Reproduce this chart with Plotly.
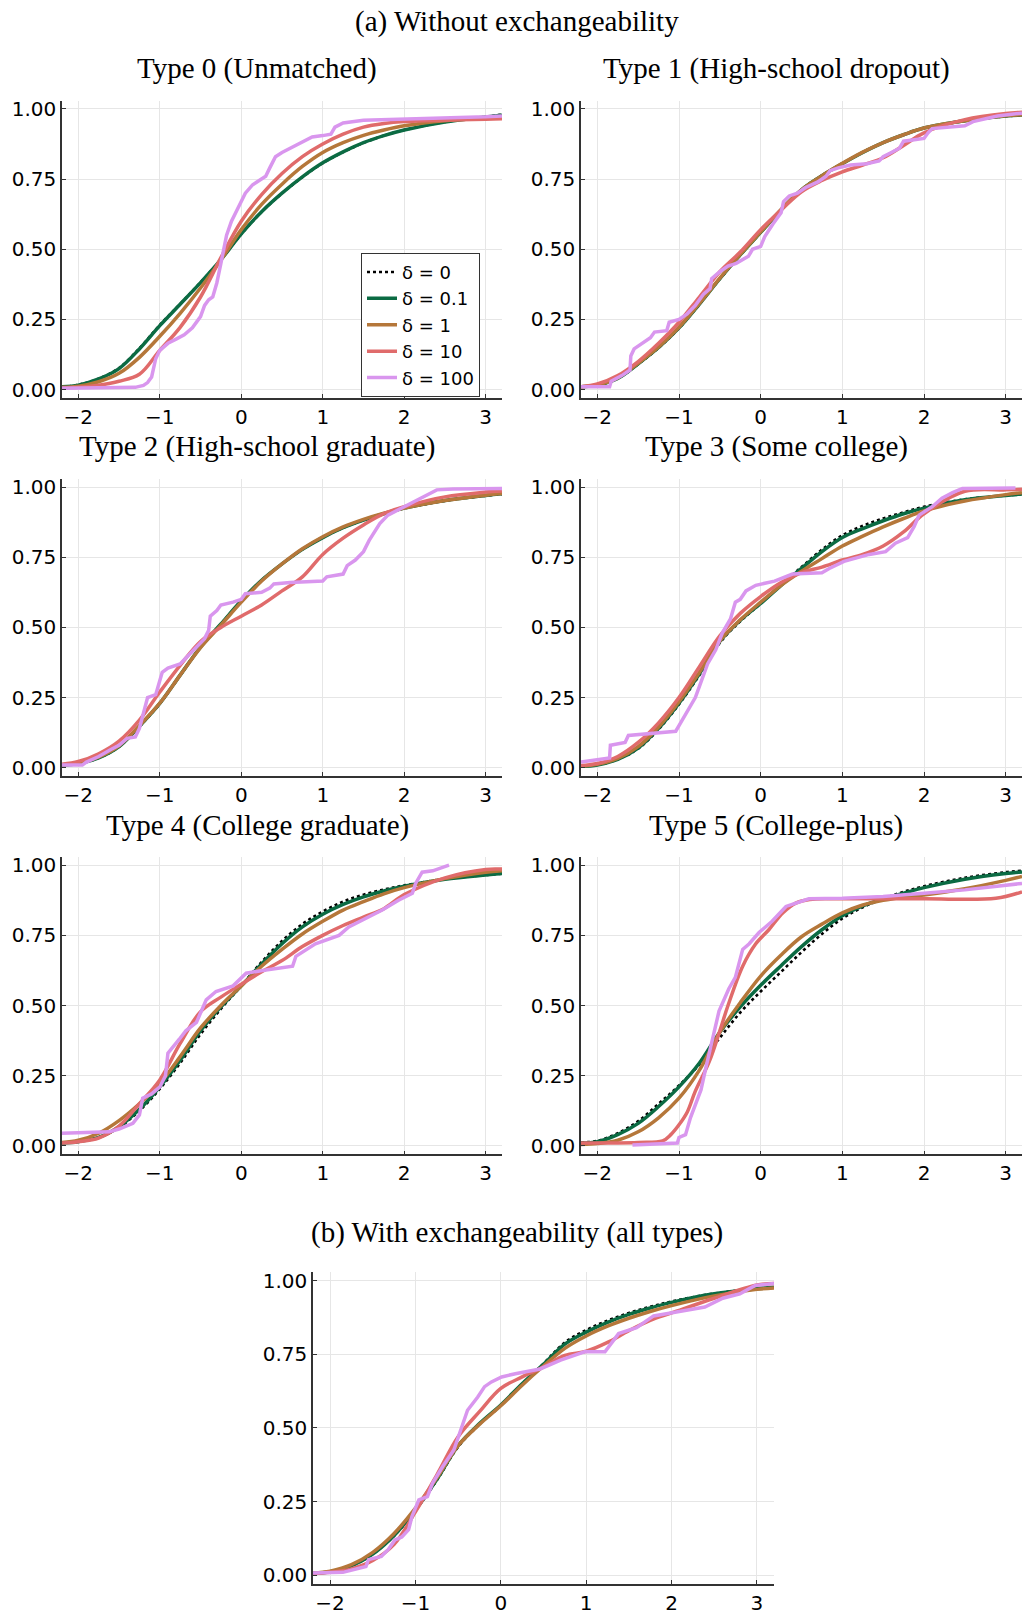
import plotly.graph_objects as go

W, H = 1025, 1616

x_grid = [-2.2, -2.0, -1.75, -1.5, -1.25, -1.0, -0.75, -0.5, -0.25, 0.0,
          0.25, 0.5, 0.75, 1.0, 1.25, 1.5, 1.75, 2.0, 2.5, 3.0, 3.2]

deltas = ['0', '0.1', '1', '10', '100']

# Type 0 (Unmatched)
t0_d0 = [0.010, 0.017, 0.039, 0.077, 0.147, 0.230, 0.305, 0.382, 0.463, 0.554, 0.633,
         0.699, 0.757, 0.807, 0.846, 0.879, 0.905, 0.925, 0.954, 0.972, 0.980]
t0_d01 = [0.010, 0.016, 0.038, 0.075, 0.145, 0.228, 0.304, 0.381, 0.463, 0.555, 0.634,
          0.700, 0.758, 0.808, 0.847, 0.880, 0.905, 0.925, 0.953, 0.971, 0.978]
t0_d1 = [0.008, 0.012, 0.028, 0.058, 0.115, 0.190, 0.272, 0.362, 0.462, 0.570, 0.660,
         0.732, 0.795, 0.845, 0.880, 0.906, 0.925, 0.940, 0.958, 0.967, 0.970]
t0_d10 = [0.006, 0.008, 0.016, 0.030, 0.055, 0.140, 0.222, 0.330, 0.470, 0.600, 0.695,
          0.770, 0.830, 0.875, 0.910, 0.935, 0.948, 0.955, 0.960, 0.963, 0.965]
t0_d100_x = [-2.2, -1.5, -1.3, -1.2, -1.15, -1.1, -1.07, -1.05, -1.0, -0.9, -0.8, -0.7,
             -0.6, -0.5, -0.45, -0.4, -0.35, -0.3, -0.25, -0.22, -0.18, -0.12, -0.05,
             0.0, 0.05, 0.14, 0.22, 0.3, 0.35, 0.42, 0.5, 0.63, 0.75, 0.87, 1.0, 1.1,
             1.15, 1.25, 1.5, 2.0, 2.5, 3.0, 3.2]
t0_d100_y = [0.005, 0.005, 0.008, 0.015, 0.025, 0.045, 0.080, 0.110, 0.140, 0.165,
             0.180, 0.195, 0.220, 0.260, 0.300, 0.320, 0.330, 0.380, 0.450, 0.490,
             0.550, 0.600, 0.640, 0.675, 0.700, 0.730, 0.745, 0.760, 0.790, 0.830,
             0.845, 0.865, 0.885, 0.900, 0.905, 0.910, 0.935, 0.950, 0.960, 0.963,
             0.967, 0.972, 0.975]

# Type 1 (High-school dropout)
t1_d0 = [0.010, 0.016, 0.040, 0.091, 0.149, 0.219, 0.304, 0.394, 0.479, 0.560, 0.640,
         0.712, 0.763, 0.806, 0.846, 0.880, 0.908, 0.932, 0.957, 0.974, 0.977]
t1_d01 = [0.010, 0.016, 0.040, 0.092, 0.150, 0.220, 0.305, 0.395, 0.480, 0.560, 0.640,
          0.712, 0.762, 0.805, 0.845, 0.880, 0.908, 0.932, 0.958, 0.975, 0.978]
t1_d1 = [0.010, 0.017, 0.042, 0.094, 0.152, 0.222, 0.307, 0.397, 0.482, 0.562, 0.642,
         0.712, 0.762, 0.806, 0.846, 0.880, 0.908, 0.932, 0.958, 0.976, 0.979]
t1_d10 = [0.010, 0.020, 0.050, 0.100, 0.165, 0.240, 0.330, 0.420, 0.490, 0.570, 0.640,
          0.705, 0.745, 0.776, 0.800, 0.826, 0.870, 0.915, 0.962, 0.984, 0.988]
t1_d100_x = [-2.2, -1.85, -1.83, -1.7, -1.6, -1.59, -1.55, -1.45, -1.35, -1.3, -1.15,
             -1.12, -1.0, -0.9, -0.8, -0.7, -0.62, -0.6, -0.5, -0.4, -0.3, -0.15, -0.1,
             0.0, 0.05, 0.15, 0.25, 0.28, 0.35, 0.45, 0.55, 0.7, 0.8, 0.85, 0.95, 1.1,
             1.3, 1.45, 1.5, 1.6, 1.7, 1.75, 1.9, 2.0, 2.05, 2.1, 2.5, 2.6, 2.9, 3.2]
t1_d100_y = [0.010, 0.010, 0.030, 0.050, 0.070, 0.120, 0.145, 0.165, 0.185, 0.205,
             0.210, 0.240, 0.250, 0.270, 0.300, 0.340, 0.360, 0.395, 0.420, 0.440,
             0.450, 0.475, 0.500, 0.510, 0.545, 0.590, 0.630, 0.670, 0.690, 0.700,
             0.720, 0.740, 0.760, 0.780, 0.790, 0.800, 0.805, 0.815, 0.830, 0.845,
             0.860, 0.885, 0.890, 0.895, 0.915, 0.930, 0.940, 0.955, 0.975, 0.985]

# Type 2 (High-school graduate)
t2_d0 = [0.010, 0.015, 0.035, 0.075, 0.147, 0.228, 0.329, 0.429, 0.512, 0.594, 0.667,
         0.726, 0.778, 0.820, 0.855, 0.882, 0.905, 0.924, 0.951, 0.969, 0.975]
t2_d01 = [0.010, 0.015, 0.035, 0.075, 0.148, 0.229, 0.330, 0.430, 0.512, 0.595, 0.668,
          0.726, 0.778, 0.820, 0.855, 0.882, 0.905, 0.925, 0.952, 0.970, 0.976]
t2_d1 = [0.011, 0.017, 0.038, 0.078, 0.150, 0.230, 0.330, 0.428, 0.508, 0.590, 0.665,
         0.726, 0.780, 0.823, 0.858, 0.885, 0.907, 0.925, 0.952, 0.971, 0.977]
t2_d10 = [0.012, 0.022, 0.050, 0.095, 0.170, 0.270, 0.365, 0.450, 0.500, 0.540, 0.580,
          0.630, 0.680, 0.760, 0.818, 0.865, 0.905, 0.930, 0.965, 0.982, 0.986]
t2_d100_x = [-2.2, -1.95, -1.9, -1.75, -1.6, -1.5, -1.4, -1.3, -1.25, -1.2, -1.15, -1.05,
             -0.97, -0.9, -0.75, -0.65, -0.55, -0.45, -0.4, -0.38, -0.3, -0.25, -0.1,
             0.0, 0.05, 0.25, 0.35, 0.4, 0.6, 1.0, 1.05, 1.25, 1.3, 1.4, 1.5, 1.57, 1.7,
             1.8, 2.0, 2.2, 2.4, 2.6, 3.2]
t2_d100_y = [0.010, 0.010, 0.020, 0.040, 0.065, 0.080, 0.105, 0.110, 0.140, 0.190,
             0.250, 0.260, 0.340, 0.355, 0.370, 0.400, 0.430, 0.460, 0.490, 0.540,
             0.560, 0.580, 0.590, 0.600, 0.620, 0.625, 0.640, 0.655, 0.660, 0.665,
             0.680, 0.690, 0.720, 0.740, 0.770, 0.810, 0.870, 0.900, 0.930, 0.960,
             0.990, 0.993, 0.995]

# Type 3 (Some college)
t3_d0 = [0.005, 0.010, 0.030, 0.068, 0.137, 0.226, 0.330, 0.445, 0.522, 0.585, 0.652,
         0.715, 0.777, 0.828, 0.862, 0.888, 0.910, 0.930, 0.956, 0.970, 0.975]
t3_d01 = [0.005, 0.010, 0.030, 0.070, 0.140, 0.230, 0.335, 0.450, 0.525, 0.585, 0.650,
          0.710, 0.770, 0.820, 0.852, 0.880, 0.905, 0.925, 0.955, 0.970, 0.975]
t3_d1 = [0.006, 0.012, 0.033, 0.075, 0.145, 0.235, 0.340, 0.452, 0.527, 0.590, 0.650,
         0.700, 0.745, 0.790, 0.825, 0.858, 0.888, 0.915, 0.950, 0.973, 0.980]
t3_d10 = [0.008, 0.015, 0.040, 0.090, 0.160, 0.250, 0.360, 0.470, 0.550, 0.610, 0.660,
          0.695, 0.715, 0.740, 0.760, 0.790, 0.840, 0.905, 0.985, 0.990, 0.992]
t3_d100_x = [-2.2, -1.85, -1.84, -1.66, -1.62, -1.5, -1.3, -1.04, -1.0, -0.95, -0.9,
             -0.8, -0.75, -0.7, -0.65, -0.55, -0.47, -0.37, -0.31, -0.25, -0.18, -0.06,
             0.17, 0.39, 0.75, 0.84, 1.02, 1.33, 1.53, 1.65, 1.8, 1.88, 1.94, 2.1, 2.22,
             2.35, 2.47, 3.12]
t3_d100_y = [0.020, 0.035, 0.080, 0.090, 0.115, 0.118, 0.122, 0.130, 0.150, 0.175,
             0.200, 0.250, 0.290, 0.335, 0.370, 0.420, 0.480, 0.530, 0.590, 0.600,
             0.630, 0.650, 0.665, 0.690, 0.695, 0.710, 0.735, 0.760, 0.770, 0.800,
             0.820, 0.860, 0.900, 0.930, 0.960, 0.980, 0.995, 0.997]

# Type 4 (College graduate)
t4_d0 = [0.010, 0.015, 0.030, 0.066, 0.125, 0.203, 0.295, 0.398, 0.488, 0.570, 0.655,
         0.730, 0.790, 0.835, 0.870, 0.895, 0.913, 0.928, 0.951, 0.965, 0.970]
t4_d01 = [0.010, 0.015, 0.030, 0.068, 0.130, 0.210, 0.305, 0.410, 0.495, 0.570, 0.648,
          0.720, 0.780, 0.825, 0.860, 0.887, 0.908, 0.925, 0.950, 0.965, 0.970]
t4_d1 = [0.012, 0.020, 0.045, 0.090, 0.150, 0.222, 0.318, 0.420, 0.500, 0.570, 0.640,
         0.700, 0.755, 0.800, 0.840, 0.870, 0.898, 0.920, 0.952, 0.975, 0.980]
t4_d10 = [0.010, 0.015, 0.028, 0.070, 0.150, 0.235, 0.365, 0.478, 0.530, 0.576, 0.620,
          0.660, 0.710, 0.750, 0.785, 0.815, 0.845, 0.895, 0.955, 0.985, 0.986]
t4_d100_x = [-2.2, -1.62, -1.5, -1.33, -1.25, -1.21, -1.1, -1.0, -0.93, -0.9, -0.76,
             -0.68, -0.55, -0.43, -0.31, -0.1, 0.06, 0.26, 0.63, 0.67, 0.91, 1.2, 1.32,
             1.53, 1.73, 1.93, 2.1, 2.14, 2.22, 2.35, 2.55]
t4_d100_y = [0.045, 0.050, 0.060, 0.080, 0.110, 0.170, 0.185, 0.210, 0.250, 0.330,
             0.380, 0.410, 0.440, 0.520, 0.550, 0.570, 0.615, 0.625, 0.640, 0.675,
             0.720, 0.750, 0.780, 0.810, 0.840, 0.875, 0.900, 0.935, 0.975, 0.980,
             1.000]

# Type 5 (College-plus)
t5_d0 = [0.012, 0.018, 0.045, 0.088, 0.150, 0.215, 0.290, 0.385, 0.475, 0.550, 0.620,
         0.690, 0.755, 0.810, 0.850, 0.880, 0.905, 0.925, 0.955, 0.975, 0.980]
t5_d01 = [0.010, 0.015, 0.040, 0.080, 0.140, 0.210, 0.295, 0.405, 0.495, 0.572, 0.642,
          0.710, 0.770, 0.820, 0.855, 0.880, 0.900, 0.920, 0.950, 0.970, 0.976]
t5_d1 = [0.005, 0.008, 0.020, 0.050, 0.100, 0.170, 0.270, 0.405, 0.510, 0.605, 0.680,
         0.745, 0.790, 0.830, 0.858, 0.875, 0.886, 0.894, 0.916, 0.946, 0.960]
t5_d10_x = [-2.2, -1.5, -1.2, -1.1, -1.0, -0.9, -0.8, -0.63, -0.5, -0.4, -0.22, -0.06,
            0.1, 0.27, 0.43, 0.6, 1.0, 2.0, 2.88, 3.2]
t5_d10_y = [0.010, 0.012, 0.018, 0.040, 0.075, 0.120, 0.195, 0.300, 0.410, 0.500,
            0.640, 0.720, 0.770, 0.830, 0.865, 0.878, 0.880, 0.880, 0.882, 0.905]
t5_d100_x = [-1.57, -1.02, -1.0, -0.92, -0.86, -0.8, -0.73, -0.67, -0.59, -0.51, -0.39,
             -0.31, -0.22, -0.14, -0.02, 0.14, 0.31, 0.47, 0.59, 1.0, 1.5, 2.0, 2.5, 3.2]
t5_d100_y = [0.003, 0.010, 0.030, 0.040, 0.100, 0.150, 0.200, 0.280, 0.380, 0.480,
             0.560, 0.600, 0.700, 0.720, 0.760, 0.800, 0.853, 0.870, 0.880, 0.882,
             0.888, 0.900, 0.912, 0.935]

# (b) all types pooled
tb_d0 = [0.006, 0.012, 0.032, 0.072, 0.134, 0.220, 0.322, 0.436, 0.512, 0.576, 0.649,
         0.718, 0.790, 0.832, 0.864, 0.890, 0.911, 0.929, 0.956, 0.972, 0.977]
tb_d01 = [0.006, 0.012, 0.032, 0.072, 0.135, 0.222, 0.325, 0.440, 0.515, 0.578, 0.650,
          0.716, 0.784, 0.825, 0.858, 0.885, 0.907, 0.926, 0.955, 0.972, 0.977]
tb_d1 = [0.007, 0.014, 0.036, 0.078, 0.142, 0.228, 0.330, 0.440, 0.512, 0.575, 0.645,
         0.710, 0.770, 0.812, 0.845, 0.872, 0.895, 0.915, 0.948, 0.970, 0.975]
tb_d10 = [0.006, 0.010, 0.022, 0.050, 0.105, 0.215, 0.340, 0.470, 0.555, 0.634, 0.673,
          0.707, 0.746, 0.760, 0.790, 0.830, 0.865, 0.890, 0.940, 0.985, 0.990]
tb_d100_x = [-2.2, -1.85, -1.58, -1.55, -1.4, -1.32, -1.24, -1.16, -1.08, -1.04, -0.96,
             -0.86, -0.8, -0.68, -0.55, -0.47, -0.39, -0.27, -0.19, -0.11, 0.01, 0.17,
             0.46, 0.7, 0.98, 1.22, 1.3, 1.38, 1.59, 1.79, 1.99, 2.19, 2.39, 2.6, 2.8,
             2.98, 3.2]
tb_d100_y = [0.008, 0.010, 0.030, 0.053, 0.064, 0.087, 0.120, 0.130, 0.155, 0.200,
             0.256, 0.267, 0.312, 0.369, 0.425, 0.490, 0.560, 0.605, 0.640, 0.656,
             0.673, 0.684, 0.700, 0.730, 0.758, 0.758, 0.790, 0.820, 0.840, 0.880,
             0.890, 0.900, 0.910, 0.940, 0.955, 0.983, 0.990]

colors = ['#000000', '#0b6b43', '#b5773a', '#e06b6b', '#d996ee']
widths = [2.6, 3.5, 3.5, 3.5, 3.5]
dashes = ['dot', 'solid', 'solid', 'solid', 'solid']
shapes = ['spline', 'spline', 'spline', 'spline', 'linear']

# pixel boxes of each plot area: left, right, top, bottom
panels = [
    dict(title='Type 0 (Unmatched)', box=(62, 502, 97, 396),
         curves=[(x_grid, t0_d0), (x_grid, t0_d01), (x_grid, t0_d1), (x_grid, t0_d10),
                 (t0_d100_x, t0_d100_y)]),
    dict(title='Type 1 (High-school dropout)', box=(581, 1022, 97, 396),
         curves=[(x_grid, t1_d0), (x_grid, t1_d01), (x_grid, t1_d1), (x_grid, t1_d10),
                 (t1_d100_x, t1_d100_y)]),
    dict(title='Type 2 (High-school graduate)', box=(62, 502, 477, 776),
         curves=[(x_grid, t2_d0), (x_grid, t2_d01), (x_grid, t2_d1), (x_grid, t2_d10),
                 (t2_d100_x, t2_d100_y)]),
    dict(title='Type 3 (Some college)', box=(581, 1022, 477, 776),
         curves=[(x_grid, t3_d0), (x_grid, t3_d01), (x_grid, t3_d1), (x_grid, t3_d10),
                 (t3_d100_x, t3_d100_y)]),
    dict(title='Type 4 (College graduate)', box=(62, 502, 857, 1156),
         curves=[(x_grid, t4_d0), (x_grid, t4_d01), (x_grid, t4_d1), (x_grid, t4_d10),
                 (t4_d100_x, t4_d100_y)]),
    dict(title='Type 5 (College-plus)', box=(581, 1022, 857, 1156),
         curves=[(x_grid, t5_d0), (x_grid, t5_d01), (x_grid, t5_d1), (t5_d10_x, t5_d10_y),
                 (t5_d100_x, t5_d100_y)]),
    dict(title=None, box=(313, 774, 1274, 1588),
         curves=[(x_grid, tb_d0), (x_grid, tb_d01), (x_grid, tb_d1), (x_grid, tb_d10),
                 (tb_d100_x, tb_d100_y)]),
]

tick_font = dict(family='DejaVu Sans', size=20, color='black')
serif = dict(family='Liberation Serif', size=29, color='black')
axis_style = dict(showline=True, linecolor='#333333', linewidth=1.5, mirror=False,
                  ticks='inside', ticklen=4, tickwidth=1, tickcolor='#333333',
                  showgrid=True, gridcolor='#e6e6e6', gridwidth=1, zeroline=False,
                  tickfont=tick_font, fixedrange=True)

fig = go.Figure()
layout = {}
annotations = []
title_cx = [257, 776]
title_cy = [64.5, 444.5, 825.5]

for i, p in enumerate(panels):
    n = '' if i == 0 else str(i + 1)
    left, right, top, bottom = p['box']
    layout['xaxis' + n] = dict(axis_style, domain=[left / W, right / W], anchor='y' + n,
                               range=[-2.2, 3.2], tickvals=[-2, -1, 0, 1, 2, 3])
    layout['yaxis' + n] = dict(axis_style, domain=[1 - bottom / H, 1 - top / H],
                               anchor='x' + n, range=[-0.03, 1.03],
                               tickvals=[0, 0.25, 0.5, 0.75, 1.0], tickformat='.2f')
    for k, (xs, ys) in enumerate(p['curves']):
        fig.add_trace(go.Scatter(
            x=xs, y=ys, mode='lines', xaxis='x' + n, yaxis='y' + n,
            name=f'δ = {deltas[k]}', showlegend=(i == 0),
            line=dict(color=colors[k], width=widths[k], dash=dashes[k], shape=shapes[k])))
    if p['title']:
        annotations.append(dict(text=p['title'], x=title_cx[i % 2] / W,
                                y=1 - title_cy[i // 2] / H, xref='paper', yref='paper',
                                xanchor='center', yanchor='middle', showarrow=False,
                                font=serif))

annotations.append(dict(text='(a) Without exchangeability', x=516.6 / W, y=1 - 18 / H,
                        xref='paper', yref='paper', xanchor='center', yanchor='middle',
                        showarrow=False, font=serif))
annotations.append(dict(text='(b) With exchangeability (all types)', x=517 / W,
                        y=1 - 1235 / H, xref='paper', yref='paper', xanchor='center',
                        yanchor='middle', showarrow=False, font=serif))

fig.update_layout(
    width=W, height=H, margin=dict(l=0, r=0, t=0, b=0),
    paper_bgcolor='white', plot_bgcolor='white',
    annotations=annotations,
    legend=dict(x=361 / W, y=1 - 250 / H, xanchor='left', yanchor='top',
                bgcolor='white', bordercolor='#333333', borderwidth=1,
                font=dict(family='DejaVu Sans', size=18, color='black'),
                tracegroupgap=0),
    **layout)

# the page body has a default 8px margin; drop it so the figure fills the window
fig.write_html("out.html", config={'displayModeBar': False},
               post_script="document.body.style.margin = '0';")
